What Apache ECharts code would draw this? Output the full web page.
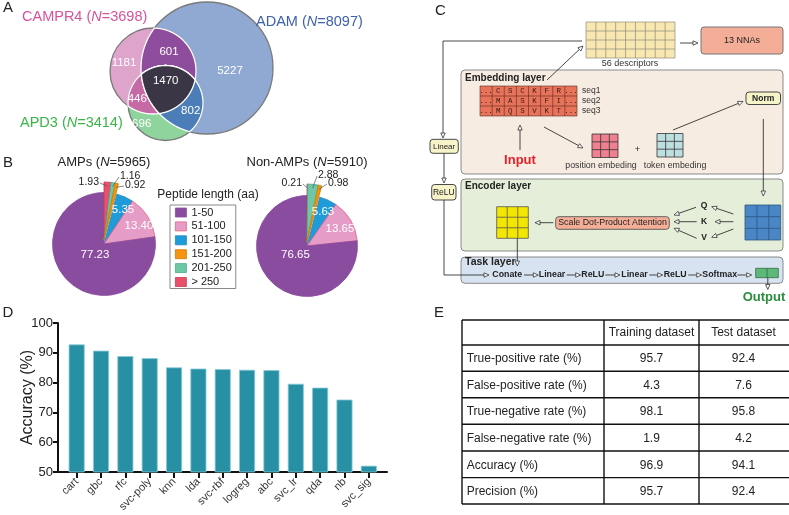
<!DOCTYPE html>
<html><head><meta charset="utf-8"><title>AMP figure</title>
<script src="https://cdn.jsdelivr.net/npm/echarts@6/dist/echarts.min.js"></script>
<style>html,body{margin:0;padding:0;background:#fff;}#chart{width:789px;height:515px;}</style>
</head><body><div id="chart"></div>
<script>
// ---------------- DATA ----------------
const vennSetNames = ['CAMPR4', 'ADAM', 'APD3'];
const vennSetSizes = [3698, 8097, 3414];
const vennOnlyCounts = [1181, 5227, 696];      // CAMPR4 only, ADAM only, APD3 only
const vennPairCounts = [601, 446, 802];        // CAMPR4&ADAM, CAMPR4&APD3, ADAM&APD3
const vennTripleCount = 1470;

const pieCategories = ['1-50', '51-100', '101-150', '151-200', '201-250', '> 250'];
const ampShares = [77.23, 13.40, 5.35, 0.92, 1.16, 1.93];
const nonAmpShares = [76.65, 13.65, 5.63, 0.98, 2.88, 0.21];
const pieTitles = ['AMPs', 'Non-AMPs'];
const pieCounts = [5965, 5910];

const modelNames = ['cart', 'gbc', 'rfc', 'svc-poly', 'knn', 'lda', 'svc-rbf', 'logreg', 'abc', 'svc_lr', 'qda', 'nb', 'svc_sig'];
const modelAccuracy = [92.8, 90.7, 88.9, 88.2, 85.1, 84.7, 84.5, 84.3, 84.2, 79.6, 78.3, 74.3, 52.1];
const accuracyTicks = [50, 60, 70, 80, 90, 100];

const tableColumns = ['', 'Training dataset', 'Test dataset'];
const tableMetrics = ['True-positive rate (%)', 'False-positive rate (%)', 'True-negative rate (%)', 'False-negative rate (%)', 'Accuracy (%)', 'Precision (%)'];
const trainingValues = ['95.7', '4.3', '98.1', '1.9', '96.9', '95.7'];
const testValues = ['92.4', '7.6', '95.8', '4.2', '94.1', '92.4'];

const seqRows = [['...', 'C', 'S', 'C', 'K', 'F', 'R', '...'], ['...', 'M', 'A', 'S', 'K', 'F', 'I', '...'], ['...', 'M', 'Q', 'S', 'V', 'K', 'T', '...']];
const seqNames = ['seq1', 'seq2', 'seq3'];
const taskSteps = ['Conate', 'Linear', 'ReLU', 'Linear', 'ReLU', 'Softmax'];

// ---------------- HELPERS ----------------
const F = "'Liberation Sans', Arial, Helvetica, sans-serif";
const G = [];
function add(e) { e.silent = true; G.push(e); return e; }
function txt(x, y, t, o) {
  o = o || {};
  const st = { text: t, fill: o.fill || '#222', fontSize: o.size || 12, fontWeight: o.bold ? 'bold' : 'normal',
    fontStyle: o.italic ? 'italic' : 'normal', fontFamily: o.family || F, align: o.align || 'left', verticalAlign: 'middle' };
  if (o.rich) st.rich = o.rich;
  add({ type: 'text', x: x, y: y, z: 30, style: st });
}
function box(x, y, w, h, fill, stroke, r, lw) {
  add({ type: 'rect', z: 10, shape: { x: x, y: y, width: w, height: h, r: r || 0 }, style: { fill: fill, stroke: stroke || 'none', lineWidth: lw || 1 } });
}
function line(x1, y1, x2, y2, c, lw) {
  add({ type: 'line', z: 20, shape: { x1: x1, y1: y1, x2: x2, y2: y2 }, style: { stroke: c || '#222', lineWidth: lw || 1 } });
}
function cells(x, y, w, h, cols, rows, fill, stroke, lw) {
  box(x, y, w, h, fill, stroke, 0, lw);
  for (let i = 1; i < cols; i++) line(x + w * i / cols, y, x + w * i / cols, y + h, stroke, lw);
  for (let j = 1; j < rows; j++) line(x, y + h * j / rows, x + w, y + h * j / rows, stroke, lw);
}
function arrow(pts, c) {
  c = c || '#333';
  const n = pts.length;
  const [x1, y1] = pts[n - 2], [x2, y2] = pts[n - 1];
  const a = Math.atan2(y2 - y1, x2 - x1), L = 5, W = 2.2;
  const bx = x2 - L * Math.cos(a), by = y2 - L * Math.sin(a);
  const p = pts.slice(0, n - 1).concat([[bx, by]]);
  add({ type: 'polyline', z: 20, shape: { points: p }, style: { stroke: c, lineWidth: 0.9, fill: null } });
  add({ type: 'polygon', z: 21, shape: { points: [[x2, y2], [bx + W * Math.sin(a), by - W * Math.cos(a)], [bx - W * Math.sin(a), by + W * Math.cos(a)]] },
    style: { fill: '#fff', stroke: c, lineWidth: 0.8 } });
}
function italicN(size, color) { return { i: { fontStyle: 'italic', fontSize: size, fontFamily: F, fill: color } }; }

// ---------------- PANEL LETTERS ----------------
txt(8, 8, 'A', { size: 15, align: 'center' });
txt(8, 162.5, 'B', { size: 15, align: 'center' });
txt(440.5, 11, 'C', { size: 15, align: 'center' });
txt(8, 313, 'D', { size: 15, align: 'center' });
txt(439, 313, 'E', { size: 15, align: 'center' });

// ---------------- PANEL A: VENN ----------------
const VC = [
  { cx: 153, cy: 71, r: 43, fill: '#DFA4CB' },     // CAMPR4
  { cx: 207, cy: 68, r: 66, fill: '#90A9D3' },     // ADAM
  { cx: 165.5, cy: 103, r: 37.5, fill: '#8FD49C' } // APD3
];
[1, 0, 2].forEach(i => add({ type: 'circle', z: 10, shape: { cx: VC[i].cx, cy: VC[i].cy, r: VC[i].r }, style: { fill: VC[i].fill, stroke: '#7a7a7a', lineWidth: 1.3 } }));
function regionPoints(idx) {
  const pts = [];
  idx.forEach(i => {
    const c = VC[i];
    for (let k = 0; k < 720; k++) {
      const a = k / 720 * Math.PI * 2;
      const x = c.cx + c.r * Math.cos(a), y = c.cy + c.r * Math.sin(a);
      if (idx.every(j => j === i || Math.hypot(x - VC[j].cx, y - VC[j].cy) <= VC[j].r + 1e-6)) pts.push([x, y]);
    }
  });
  const mx = pts.reduce((s, p) => s + p[0], 0) / pts.length, my = pts.reduce((s, p) => s + p[1], 0) / pts.length;
  pts.sort((p, q) => Math.atan2(p[1] - my, p[0] - mx) - Math.atan2(q[1] - my, q[0] - mx));
  return pts;
}
const lensDefs = [[[0, 1], '#8E4C9C'], [[0, 2], '#C66AA6'], [[1, 2], '#4B7DB8'], [[0, 1, 2], '#3A3646']];
lensDefs.forEach(d => add({ type: 'polygon', z: 11, shape: { points: regionPoints(d[0]) }, style: { fill: d[1], stroke: '#fff', lineWidth: 1.3 } }));
const vennLabelPos = [[124, 62.7], [230, 70.7], [141.7, 124], [169, 51.7], [137.3, 99.3], [190.7, 111], [165.7, 81]];
const vennCounts = vennOnlyCounts.concat(vennPairCounts, [vennTripleCount]);
vennCounts.forEach((v, i) => txt(vennLabelPos[i][0], vennLabelPos[i][1], String(v), { size: 11.5, fill: '#fff', align: 'center' }));
const vennTitlePos = [[22, 17, '#D9529B'], [256, 22, '#3F62AE'], [20, 122.5, '#3BB54A']];
vennSetNames.forEach((n, i) => {
  const p = vennTitlePos[i];
  txt(p[0], p[1], n + ' ({i|N}=' + vennSetSizes[i] + ')', { size: 14.5, fill: p[2], rich: italicN(14.5, p[2]) });
});

// ---------------- PANEL B ----------------
const pieCenters = [[104, 244], [307, 246]];
const pieRadii = [51.5, 50.5];
const smallLift = 4, smallRadius = 58;
pieTitles.forEach((t, i) => txt(pieCenters[i][0], 162, t + ' ({i|N}=' + pieCounts[i] + ')', { size: 13, align: 'center', rich: italicN(13, '#222') }));
txt(208, 194.5, 'Peptide length (aa)', { size: 12, align: 'center' });

const pieColors = ['#8A4C9E', '#E59CC6', '#1F9BDA', '#F5940E', '#6CC8A6', '#E9506A'];
const pieBorders = ['#8A4C9E', '#E8617C', '#1a86c0', '#d07a00', '#4fa98a', '#c93a54'];
const pieOrder = [5, 4, 3, 2, 1, 0]; // clockwise from 12 o'clock
const isSmall = ci => ci >= 3;
// label anchor offsets from pie centre (layout only); small slices: [edgeX, y, side]
const pieLabelOffsets = [
  [[-9, 11], [35, -18], [19, -34], [21, -59, 'left'], [16, -68, 'left'], [-5, -62, 'right']],
  [[-11.5, 9], [33, -17], [16, -34], [21, -63, 'left'], [11, -71, 'left'], [-5, -63, 'right']]
];
const HIDDEN = { color: 'rgba(0,0,0,0)', borderWidth: 0 };
function pieSeries(values, si, smallPart) {
  const c = pieCenters[si];
  const center = smallPart ? [c[0], c[1] - smallLift] : c;
  return {
    type: 'pie', center: center, radius: [0, smallPart ? smallRadius : pieRadii[si]], startAngle: 90, clockwise: true,
    avoidLabelOverlap: false, silent: true, emphasis: { disabled: true }, minShowLabelAngle: 0, selectedMode: false,
    data: pieOrder.map(ci => {
      const visible = smallPart ? isSmall(ci) : !isSmall(ci);
      return {
        name: pieCategories[ci], value: values[ci],
        itemStyle: visible ? { color: pieColors[ci], borderColor: pieBorders[ci], borderWidth: 0.8 } : HIDDEN,
        label: visible ? { show: true, position: 'inside', color: smallPart ? '#222' : '#fff', fontSize: smallPart ? 10.5 : 11.5, fontFamily: F, overflow: 'none' }
                       : { show: false },
        labelLine: { show: false }
      };
    }),
    label: { formatter: p => p.value.toFixed(2), overflow: 'none' },
    labelLayout: function (p) {
      const ci = pieOrder[p.dataIndex];
      const off = pieLabelOffsets[si][ci];
      const w = p.labelRect ? p.labelRect.width : 0;
      let x = c[0] + off[0];
      if (off[2] === 'right') x -= w / 2;
      if (off[2] === 'left') x += w / 2;
      return { x: x, y: c[1] + off[1] };
    }
  };
}
// leader lines for the small slices, from the label edge to the slice's outer edge
[ampShares, nonAmpShares].forEach((vals, si) => {
  const c = pieCenters[si];
  const total = vals.reduce((s, v) => s + v, 0);
  let acc = 0;
  pieOrder.forEach(ci => {
    const a0 = acc / total * 360; acc += vals[ci];
    const mid = (a0 + acc / total * 360) / 2 * Math.PI / 180;
    const off = pieLabelOffsets[si][ci];
    if (!off[2]) return;
    const rr = smallRadius - 4;
    const ax = c[0] + rr * Math.sin(mid), ay = c[1] - smallLift - rr * Math.cos(mid);
    const ex = c[0] + off[0] + (off[2] === 'right' ? 1 : -1), ey = c[1] + off[1] + 1;
    line(ex, ey, ax, ay, '#555', 0.7);
  });
});

// ---------------- PANEL C: architecture ----------------
cells(586, 22, 89, 36, 9, 4, '#F8E7B1', '#8c8a78', 0.7);
txt(630, 64, '56 descriptors', { size: 9, align: 'center', fill: '#333' });
arrow([[680, 43], [698, 43]]);
box(701, 27, 82, 27, '#F4AE98', '#777', 3, 1);
txt(742, 40.5, '13 NNAs', { size: 9, align: 'center' });
arrow([[582, 41], [443, 41], [443, 138]]);

box(461, 70, 322, 104, '#F7ECE1', '#8a8a8a', 4, 1);
txt(465, 78, 'Embedding layer', { size: 10, bold: true });
arrow([[547, 80], [583, 46]]);
cells(480, 86, 97, 30, 8, 3, '#E8735B', '#5a2a20', 0.6);
seqRows.forEach((row, r) => row.forEach((ch, k) => txt(480 + 97 * (k + 0.5) / 8, 86 + 10 * (r + 0.5), ch, { size: 7.5, align: 'center', family: "'Liberation Mono', 'DejaVu Sans Mono', monospace", fill: '#3a1a10' })));
seqNames.forEach((n, r) => txt(582, 91 + 10 * r, n, { size: 8.5, fill: '#333' }));
arrow([[520, 150], [520, 125]]);
txt(520, 160, 'Input', { size: 13, bold: true, fill: '#E5202A', align: 'center' });
arrow([[544, 127], [583, 148]]);
cells(592, 134, 26, 23.5, 3, 3, '#EE8090', '#333', 0.8);
cells(657, 133.5, 26, 23.5, 3, 3, '#BEDFE0', '#333', 0.8);
txt(637.5, 150, '+', { size: 9, align: 'center' });
txt(601, 166, 'position embeding', { size: 8.8, align: 'center', fill: '#333' });
txt(675, 166, 'token embeding', { size: 8.8, align: 'center', fill: '#333' });
arrow([[673, 130], [743, 101.5]]);
box(746, 92, 34.5, 12.5, '#F6F4C8', '#333', 3, 0.9);
txt(763.2, 98.3, 'Norm', { size: 8.5, bold: true, align: 'center' });
arrow([[763.3, 119], [763.3, 196]]);

box(430, 139.3, 28.3, 14, '#F6F4C8', '#333', 3, 0.9);
txt(444.1, 146.3, 'Linear', { size: 8, align: 'center' });
arrow([[444, 153.3], [444, 183]]);
box(431.7, 184.5, 24.3, 15.5, '#F6F4C8', '#333', 3, 0.9);
txt(443.8, 192.3, 'ReLU', { size: 8.5, align: 'center' });
arrow([[444, 200], [444, 275], [489, 275]]);

box(461, 179, 322, 72, '#E4EED8', '#8a8a8a', 4, 1);
txt(465, 186, 'Encoder layer', { size: 10, bold: true });
cells(496.7, 206.7, 31.6, 31.6, 3, 3, '#F3E600', '#555', 0.8);
arrow([[553.3, 222.7], [535, 222.7]]);
box(555.7, 216.7, 113.6, 12.6, '#F4AE98', '#555', 3, 0.9);
txt(612.5, 223, 'Scale Dot-Product Attention', { size: 8.8, align: 'center' });
const qkv = ['Q', 'K', 'V'], qkvY = [205.7, 221.7, 237.3];
qkv.forEach((q, i) => txt(704, qkvY[i], q, { size: 8.5, bold: true, align: 'center' }));
arrow([[696, 207.3], [674, 215]]);
arrow([[696.7, 221.7], [674, 221.7]]);
arrow([[696.7, 238.3], [674, 228.3]]);
arrow([[733.3, 214], [711.7, 206.7]]);
arrow([[733.3, 221.7], [715, 221.7]]);
arrow([[733.3, 229], [711.7, 237.3]]);
cells(745, 205, 35.7, 35, 3, 3, '#4A85C5', '#2c5580', 0.8);
arrow([[517.3, 238.3], [517.3, 266]]);

box(461, 257, 322, 26.3, '#D7E3F1', '#8a8a8a', 4, 1);
txt(465, 262.5, 'Task layer', { size: 10.5, bold: true });
const stepCenters = [507.2, 552, 592.8, 634.5, 675.2, 719.7];
const stepArrows = [[524, 538.3], [566.7, 580.7], [605.3, 620], [649.3, 662.7], [688.3, 701.7], [737.3, 751.7]];
taskSteps.forEach((s, i) => {
  txt(stepCenters[i], 275, s, { size: 8.8, bold: true, align: 'center' });
  arrow([[stepArrows[i][0], 275], [stepArrows[i][1], 275]]);
});
cells(755.7, 268.3, 22.6, 9.4, 2, 1, '#5DB87A', '#2f6e40', 0.8);
arrow([[767.8, 277.7], [767.8, 289.5]]);
txt(764, 297, 'Output', { size: 13, bold: true, fill: '#2B8C3C', align: 'center' });

// ---------------- PANEL E: table ----------------
const colX = [462, 604, 699, 789];
const rowY = [320, 345, 371.3, 397.8, 424.3, 451, 477.6, 504];
rowY.forEach(y => line(colX[0], y, colX[3], y, '#111', 1.4));
colX.slice(0, 3).forEach(x => line(x, rowY[0], x, rowY[rowY.length - 1], '#111', 1.4));
const colCenters = [0, 651.5, 743.5];
tableColumns.forEach((c, i) => { if (c) txt(colCenters[i], (rowY[0] + rowY[1]) / 2, c, { size: 12, align: 'center' }); });
tableMetrics.forEach((m, r) => {
  const y = (rowY[r + 1] + rowY[r + 2]) / 2 + 1;
  txt(466.7, y, m, { size: 12 });
  txt(colCenters[1], y, trainingValues[r], { size: 12, align: 'center' });
  txt(colCenters[2], y, testValues[r], { size: 12, align: 'center' });
});

// ---------------- OPTION ----------------
const chart = echarts.init(document.getElementById('chart'), null, { renderer: 'canvas' });
const yMin = accuracyTicks[0], yMax = accuracyTicks[accuracyTicks.length - 1], yStep = accuracyTicks[1] - accuracyTicks[0];
const option = {
  animation: false,
  backgroundColor: '#fff',
  textStyle: { fontFamily: F },
  legend: {
    data: pieCategories.map((n, i) => ({ name: n, itemStyle: { color: pieColors[i], borderColor: pieBorders[i], borderWidth: 0.8 } })),
    orient: 'vertical', left: 170, top: 205, itemWidth: 11, itemHeight: 9, itemGap: 2.9,
    padding: [2, 4, 1, 5], borderColor: '#888', borderWidth: 1, icon: 'rect', selectedMode: false,
    textStyle: { fontSize: 11, color: '#222', fontFamily: F, lineHeight: 9.5 }
  },
  grid: [
    { left: 58, top: 323, width: 329, height: 149, containLabel: false, outerBoundsMode: 'none' },
    { left: 64.5, top: 323, width: 316.5, height: 149, containLabel: false, outerBoundsMode: 'none' }
  ],
  xAxis: [
    { gridIndex: 0, type: 'value', min: 0, max: 1, axisLine: { show: true, lineStyle: { color: '#111', width: 2 } },
      axisTick: { show: false }, axisLabel: { show: false }, splitLine: { show: false } },
    { gridIndex: 1, type: 'category', data: modelNames, axisLine: { show: false },
      axisTick: { show: true, alignWithLabel: true, interval: 0, length: 6, lineStyle: { color: '#111', width: 2 } },
      axisLabel: { interval: 0, rotate: 45, fontSize: 11, color: '#333', margin: 8, fontFamily: F }, splitLine: { show: false } }
  ],
  yAxis: [
    { gridIndex: 0, type: 'value', min: yMin, max: yMax, interval: yStep,
      axisLine: { show: true, lineStyle: { color: '#111', width: 2 } },
      axisTick: { show: true, length: 5, lineStyle: { color: '#111', width: 2 } },
      axisLabel: { fontSize: 13, color: '#222', margin: 5, fontFamily: F }, splitLine: { show: false },
      name: 'Accuracy (%)', nameLocation: 'middle', nameGap: 22, nameMoveOverlap: false,
      nameTextStyle: { fontSize: 16, color: '#222', fontFamily: F } },
    { gridIndex: 1, type: 'value', min: yMin, max: yMax, interval: yStep, show: false, splitLine: { show: false } }
  ],
  series: [
    pieSeries(ampShares, 0, false),
    pieSeries(ampShares, 0, true),
    pieSeries(nonAmpShares, 1, false),
    pieSeries(nonAmpShares, 1, true),
    { type: 'bar', xAxisIndex: 1, yAxisIndex: 1, data: modelAccuracy, barWidth: 16, silent: true,
      itemStyle: { color: '#2790A5', borderColor: '#86CAD6', borderWidth: 0.8 } }
  ],
  graphic: { elements: G }
};
chart.setOption(option);
</script></body></html>
